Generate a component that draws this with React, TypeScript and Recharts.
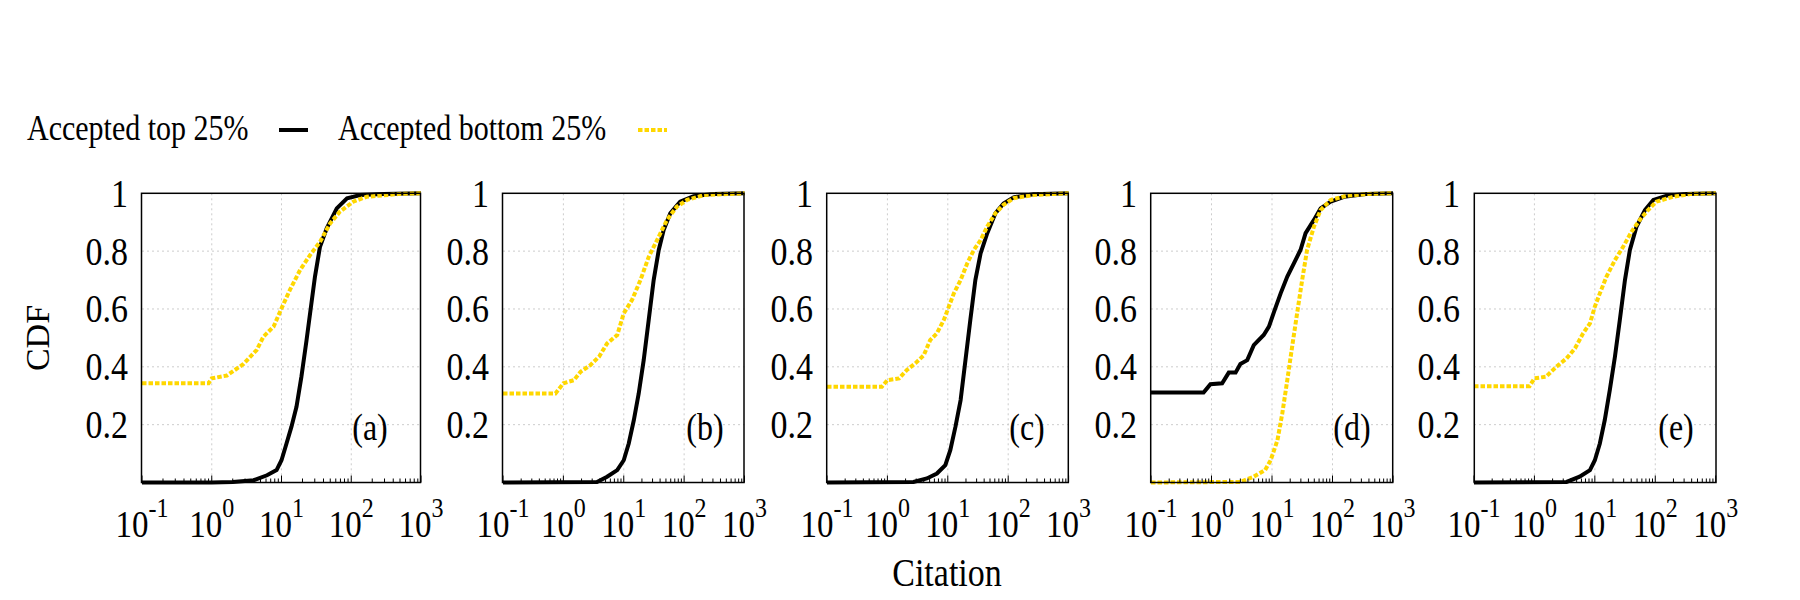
import React from 'react';
import { LineChart, Line, XAxis, YAxis, CartesianGrid } from 'recharts';

// [citation, cdf] pairs
const topA = [[0.1, 0], [1, 0], [2, 0.002], [4, 0.008], [6.2, 0.025], [8.5, 0.043], [10, 0.077], [11.8, 0.135], [13.9, 0.193], [16.4, 0.262], [19.3, 0.366], [22.8, 0.49], [25.7, 0.585], [30.2, 0.712], [35.6, 0.815], [44.5, 0.879], [62, 0.948], [87, 0.983], [135, 0.994], [290, 0.998], [1000, 1]];
const bottomA = [[0.1, 0.343], [0.9, 0.343], [1, 0.36], [1.65, 0.37], [2.86, 0.41], [4.4, 0.458], [5.5, 0.504], [7.7, 0.539], [10, 0.602], [13.2, 0.666], [18.5, 0.735], [25.8, 0.787], [35.8, 0.833], [49.8, 0.896], [69, 0.937], [107, 0.971], [166, 0.988], [500, 0.998], [1000, 1]];

const topB = [[0.1, 0], [3.6, 0.002], [5.3, 0.02], [7.8, 0.043], [10, 0.077], [12.1, 0.135], [14.7, 0.216], [17.7, 0.308], [21.4, 0.423], [25.9, 0.562], [31.3, 0.7], [38, 0.804], [45.8, 0.873], [59, 0.931], [86, 0.971], [144, 0.99], [310, 0.998], [1000, 1]];
const bottomB = [[0.1, 0.308], [0.74, 0.308], [1, 0.343], [1.5, 0.354], [1.93, 0.383], [2.8, 0.406], [3.9, 0.435], [5.3, 0.481], [7.8, 0.51], [10, 0.585], [13.7, 0.631], [18.9, 0.7], [25.9, 0.78], [35.6, 0.838], [52, 0.908], [76, 0.954], [112, 0.977], [213, 0.994], [1000, 1]];

const topC = [[0.1, 0], [2.7, 0.002], [4.5, 0.014], [6.6, 0.031], [9.1, 0.06], [11, 0.112], [13.4, 0.193], [16.3, 0.285], [19.6, 0.423], [23.6, 0.562], [28.6, 0.7], [34.9, 0.792], [45, 0.862], [61.4, 0.931], [83.7, 0.965], [123, 0.986], [262, 0.997], [1000, 1]];
const bottomC = [[0.1, 0.331], [0.81, 0.331], [1, 0.354], [1.56, 0.36], [2.1, 0.389], [2.9, 0.412], [4, 0.44], [5.1, 0.492], [6.6, 0.516], [8.6, 0.562], [10.4, 0.608], [12.6, 0.654], [16.3, 0.7], [21, 0.758], [27, 0.804], [34.9, 0.838], [45, 0.885], [61.4, 0.931], [83.7, 0.96], [123, 0.983], [262, 0.994], [1000, 1]];

const topD = [[0.1, 0.311], [0.74, 0.311], [0.96, 0.34], [1.5, 0.343], [1.93, 0.38], [2.5, 0.38], [3, 0.41], [3.9, 0.423], [5, 0.475], [7.3, 0.51], [8.9, 0.539], [10.8, 0.59], [13.9, 0.654], [17.9, 0.712], [23, 0.758], [29.6, 0.804], [35.9, 0.862], [49.4, 0.908], [63.6, 0.948], [93, 0.971], [155, 0.988], [380, 0.998], [1000, 1]];
const bottomD = [[0.1, 0], [3, 0.002], [5, 0.02], [7.7, 0.043], [9.5, 0.077], [12.3, 0.146], [14.8, 0.239], [17.9, 0.354], [21.5, 0.469], [26, 0.585], [31.5, 0.7], [38, 0.804], [49.4, 0.885], [63.6, 0.942], [93, 0.977], [174, 0.992], [400, 0.998], [1000, 1]];

const topE = [[0.1, 0], [3.4, 0.002], [5.6, 0.02], [8.3, 0.043], [10, 0.077], [12.1, 0.135], [14.6, 0.216], [17.7, 0.32], [21.5, 0.435], [25.9, 0.562], [31.5, 0.7], [38, 0.804], [49, 0.885], [67.5, 0.942], [93, 0.977], [155, 0.992], [320, 0.998], [1000, 1]];
const bottomE = [[0.1, 0.333], [0.83, 0.333], [1, 0.36], [1.56, 0.366], [2.3, 0.4], [3.4, 0.429], [4.7, 0.464], [6.4, 0.516], [8.3, 0.55], [10, 0.608], [12.1, 0.654], [15.6, 0.712], [21.5, 0.769], [29.4, 0.815], [40.4, 0.867], [55.4, 0.908], [76, 0.942], [104, 0.971], [197, 0.988], [400, 0.998], [1000, 1]];

const panelNames = ['(a)', '(b)', '(c)', '(d)', '(e)'];
const topSeries = [topA, topB, topC, topD, topE];
const bottomSeries = [bottomA, bottomB, bottomC, bottomD, bottomE];

const xTicks = [0.1, 0.2, 0.3, 0.4, 0.5, 0.6, 0.7, 0.8, 0.9, 1, 2, 3, 4, 5, 6, 7, 8, 9, 10, 20, 30, 40, 50, 60, 70, 80, 90, 100, 200, 300, 400, 500, 600, 700, 800, 900, 1000];
const xGrid = [1, 10, 100];
const yTicks = [0.2, 0.4, 0.6, 0.8, 1];
const yGrid = [0.2, 0.4, 0.6, 0.8];

const legendTop = 'Accepted top 25%';
const legendBottom = 'Accepted bottom 25%';

// layout (page pixels)
const PLOT_TOP = 193.3;
const PLOT_BOTTOM = 482.5;
const YW = 80;
const RM = 40;
const XH = 80;
const panelLeft = [141.5, 502.5, 826.7, 1150.7, 1474.3];
const panelWidth = [279, 241.5, 241.6, 242, 241.7];
const labelCenter = [370, 705, 1027, 1352, 1676];

const FONT = '"Liberation Serif", "Times New Roman", serif';
const GOLD = '#FFD700';
const SY = 1.18; // glyphs in the original are a bit taller than wide

const toRows = (pairs: number[][]) => pairs.map(([x, y]) => ({ x, y }));

// text stretched vertically around its anchor point
function T({ x, y, size, anchor = 'start', baseline, children }: any) {
  return (
    <g transform={`translate(${x} ${y}) scale(1 ${SY})`}>
      <text
        x={0}
        y={0}
        textAnchor={anchor}
        dominantBaseline={baseline}
        fontFamily={FONT}
        fontSize={size}
        fill="#000"
      >
        {children}
      </text>
    </g>
  );
}

const XTick = (props: any) => {
  const { x, payload } = props;
  const lg = Math.log10(payload.value);
  const exp = Math.round(lg);
  const major = Math.abs(lg - exp) < 1e-6;
  return (
    <g>
      <line x1={x} x2={x} y1={PLOT_BOTTOM} y2={PLOT_BOTTOM - (major ? 7 : 4)} stroke="#000" strokeWidth={1} />
      {major && (
        <T x={x} y={537} size={33} anchor="middle">
          <tspan>10</tspan>
          <tspan fontSize={24} dy={-17}>{exp}</tspan>
        </T>
      )}
    </g>
  );
};

const YTick = (props: any) => {
  const { y, payload } = props;
  return (
    <T x={YW - 14} y={y} size={34} anchor="end" baseline="central">
      {String(payload.value)}
    </T>
  );
};

function Panel({ i }: { i: number }) {
  const w = panelWidth[i];
  return (
    <div style={{ position: 'absolute', left: panelLeft[i] - YW, top: 0 }}>
      <LineChart
        width={YW + w + RM}
        height={600}
        margin={{ top: PLOT_TOP, right: RM, bottom: 600 - PLOT_BOTTOM - XH, left: 0 }}
      >
        <CartesianGrid
          stroke="#cccccc"
          strokeDasharray="2 3"
          verticalValues={xGrid}
          horizontalValues={yGrid}
        />
        <XAxis
          dataKey="x"
          type="number"
          scale="log"
          domain={[0.1, 1000]}
          ticks={xTicks}
          interval={0}
          height={XH}
          tick={<XTick />}
          tickLine={false}
          axisLine={false}
        />
        <YAxis
          type="number"
          domain={[0, 1]}
          ticks={yTicks}
          interval={0}
          width={YW}
          tick={<YTick />}
          tickLine={false}
          axisLine={false}
        />
        <Line
          data={toRows(topSeries[i])}
          dataKey="y"
          type="linear"
          stroke="#000"
          strokeWidth={4}
          dot={false}
          isAnimationActive={false}
        />
        <Line
          data={toRows(bottomSeries[i])}
          dataKey="y"
          type="linear"
          stroke={GOLD}
          strokeWidth={4}
          strokeDasharray="4.5 2"
          dot={false}
          isAnimationActive={false}
        />
      </LineChart>
    </div>
  );
}

export default function App() {
  return (
    <div style={{ position: 'absolute', left: 0, top: 0, width: 1800, height: 600, background: '#fff' }}>
      {panelNames.map((_, i) => (
        <Panel key={i} i={i} />
      ))}
      <svg width={1800} height={600} style={{ position: 'absolute', left: 0, top: 0, pointerEvents: 'none' }}>
        {panelNames.map((name, i) => (
          <g key={name}>
            <rect
              x={panelLeft[i]}
              y={PLOT_TOP}
              width={panelWidth[i]}
              height={PLOT_BOTTOM - PLOT_TOP}
              fill="none"
              stroke="#000"
              strokeWidth={1.5}
            />
            <T x={labelCenter[i]} y={440} size={32} anchor="middle">
              {name}
            </T>
          </g>
        ))}
        {/* legend */}
        <T x={27} y={140} size={30}>{legendTop}</T>
        <line x1={279} x2={308} y1={130} y2={130} stroke="#000" strokeWidth={4} />
        <T x={338} y={140} size={30}>{legendBottom}</T>
        <line x1={638} x2={667} y1={130} y2={130} stroke={GOLD} strokeWidth={4} strokeDasharray="4.5 2" />
        {/* axis titles */}
        <text
          x={37}
          y={338}
          transform="rotate(-90 37 338)"
          textAnchor="middle"
          dominantBaseline="central"
          fontFamily={FONT}
          fontSize={34}
          fill="#000"
        >
          CDF
        </text>
        <T x={947} y={586} size={34} anchor="middle">
          Citation
        </T>
      </svg>
    </div>
  );
}
